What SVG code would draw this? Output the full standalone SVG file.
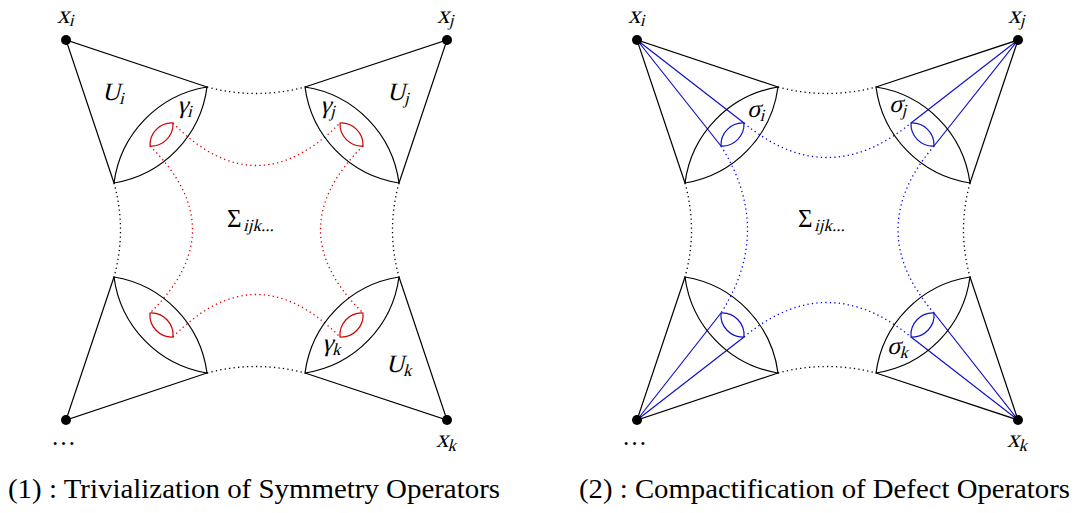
<svg xmlns="http://www.w3.org/2000/svg" width="1076" height="513" viewBox="0 0 1076 513">
<style>
.ln{stroke:#000;stroke-width:1.2;fill:none}
.dotk{stroke:#000;stroke-width:1.3;fill:none;stroke-dasharray:1.3 3.2}
.dotr{stroke:#e00000;stroke-width:1.3;fill:none;stroke-dasharray:1.3 3.2}
.dotb{stroke:#0000f0;stroke-width:1.3;fill:none;stroke-dasharray:1.3 3.2}
.rl{stroke:#cc0000;stroke-width:1.2;fill:none}
.bl{stroke:#1010c8;stroke-width:1.2;fill:none}
.pt{fill:#000}
.m{font-family:"Liberation Serif","Times New Roman",serif;font-size:25px;fill:#000}
.s{font-size:17px}
.cap{font-family:"Liberation Serif","Times New Roman",serif;font-size:27px;fill:#000}
</style>
<rect width="1076" height="513" fill="#fff"/>

<g id="connectors">
  <path class="dotk" d="M207,87 Q256,100 305,87"/>
  <path class="dotk" d="M114,183 Q127,230 114,277"/>
  <path class="dotk" d="M399,183 Q386,230 399,277"/>
  <path class="dotk" d="M207,373 Q256,360 305,373"/>
  <path class="dotr" d="M173,123 Q256,208 340,123"/>
  <path class="dotr" d="M150,146 Q235,230 150,313"/>
  <path class="dotr" d="M363,146 Q278,230 363,313"/>
  <path class="dotr" d="M173,337 Q256,252 340,337"/>
  <path class="dotk" d="M778,87 Q827,100 876,87"/>
  <path class="dotk" d="M685,183 Q698,230 685,277"/>
  <path class="dotk" d="M970,183 Q957,230 970,277"/>
  <path class="dotk" d="M778,373 Q827,360 876,373"/>
  <path class="dotb" d="M744,123 Q827,192 911,123"/>
  <path class="dotb" d="M744,337 Q827,268 911,337"/>
  <path class="dotb" d="M721,146 Q774,230 721,313"/>
  <path class="dotb" d="M934,146 Q862,230 934,313"/>
  <path class="bl" d="M637,40 L744,123 M637,40 L721,146"/>
  <path class="bl" d="M1018,40 L911,123 M1018,40 L934,146"/>
  <path class="bl" d="M637,420 L721,313 M637,420 L744,337"/>
  <path class="bl" d="M1018,420 L934,313 M1018,420 L911,337"/>
</g>

<g id="Ui">
  <path class="ln" d="M207,87 L66,40 L114,183"/>
  <path class="ln" d="M207,87 A112,112 0 0 1 114,183 A112,112 0 0 1 207,87 Z"/>
  <path class="rl" d="M173,123 A22,22 0 0 1 150,146 A22,22 0 0 1 173,123 Z"/>
  <circle class="pt" cx="66" cy="40" r="5"/>
  <text class="m" transform="translate(57,23) skewX(-14)">x<tspan class="s" dy="3">i</tspan></text>
  <text class="m" transform="translate(102,100) skewX(-14)">U<tspan class="s" dy="4">i</tspan></text>
  <text class="m" transform="translate(177,113) skewX(-14)">γ<tspan class="s" dy="4">i</tspan></text>
</g>
<g id="Uj">
  <path class="ln" d="M305,87 L447,40 L399,183"/>
  <path class="ln" d="M305,87 A112,112 0 0 1 399,183 A112,112 0 0 1 305,87 Z"/>
  <path class="rl" d="M340,123 A22,22 0 0 1 363,146 A22,22 0 0 1 340,123 Z"/>
  <circle class="pt" cx="447" cy="40" r="5"/>
  <text class="m" transform="translate(437,23) skewX(-14)">x<tspan class="s" dy="3">j</tspan></text>
  <text class="m" transform="translate(387,100) skewX(-14)">U<tspan class="s" dy="4">j</tspan></text>
  <text class="m" transform="translate(320,113) skewX(-14)">γ<tspan class="s" dy="4">j</tspan></text>
</g>
<g id="Ubl">
  <path class="ln" d="M114,277 L66,420 L207,373"/>
  <path class="ln" d="M114,277 A112,112 0 0 1 207,373 A112,112 0 0 1 114,277 Z"/>
  <path class="rl" d="M150,313 A22,22 0 0 1 173,337 A22,22 0 0 1 150,313 Z"/>
  <circle class="pt" cx="66" cy="420" r="5"/>
  <text class="m" x="51" y="445" font-size="29">…</text>
</g>
<g id="Uk">
  <path class="ln" d="M399,277 L447,420 L305,373"/>
  <path class="ln" d="M399,277 A112,112 0 0 1 305,373 A112,112 0 0 1 399,277 Z"/>
  <path class="rl" d="M363,313 A22,22 0 0 1 340,337 A22,22 0 0 1 363,313 Z"/>
  <circle class="pt" cx="447" cy="420" r="5"/>
  <text class="m" transform="translate(436,447) skewX(-14)">x<tspan class="s" dy="4">k</tspan></text>
  <text class="m" transform="translate(386,372) skewX(-14)">U<tspan class="s" dy="4">k</tspan></text>
  <text class="m" transform="translate(322,351) skewX(-14)">γ<tspan class="s" dy="4">k</tspan></text>
</g>
<g id="Sigma1">
  <text class="m" x="227" y="227">Σ</text>
  <text class="m s" transform="translate(243,231) skewX(-14)">ijk...</text>
</g>

<g id="Vi">
  <path class="ln" d="M778,87 L637,40 L685,183"/>
  <path class="ln" d="M778,87 A112,112 0 0 1 685,183 A112,112 0 0 1 778,87 Z"/>
  <path class="bl" d="M744,123 A22,22 0 0 1 721,146 A22,22 0 0 1 744,123 Z"/>
  <circle class="pt" cx="637" cy="40" r="5"/>
  <text class="m" transform="translate(628,23) skewX(-14)">x<tspan class="s" dy="3">i</tspan></text>
  <text class="m" transform="translate(747,117) skewX(-14)">σ<tspan class="s" dy="4">i</tspan></text>
</g>
<g id="Vj">
  <path class="ln" d="M876,87 L1018,40 L970,183"/>
  <path class="ln" d="M876,87 A112,112 0 0 1 970,183 A112,112 0 0 1 876,87 Z"/>
  <path class="bl" d="M911,123 A22,22 0 0 1 934,146 A22,22 0 0 1 911,123 Z"/>
  <circle class="pt" cx="1018" cy="40" r="5"/>
  <text class="m" transform="translate(1008,23) skewX(-14)">x<tspan class="s" dy="3">j</tspan></text>
  <text class="m" transform="translate(889,112) skewX(-14)">σ<tspan class="s" dy="4">j</tspan></text>
</g>
<g id="Vbl">
  <path class="ln" d="M685,277 L637,420 L778,373"/>
  <path class="ln" d="M685,277 A112,112 0 0 1 778,373 A112,112 0 0 1 685,277 Z"/>
  <path class="bl" d="M721,313 A22,22 0 0 1 744,337 A22,22 0 0 1 721,313 Z"/>
  <circle class="pt" cx="637" cy="420" r="5"/>
  <text class="m" x="622" y="445" font-size="29">…</text>
</g>
<g id="Vk">
  <path class="ln" d="M970,277 L1018,420 L876,373"/>
  <path class="ln" d="M970,277 A112,112 0 0 1 876,373 A112,112 0 0 1 970,277 Z"/>
  <path class="bl" d="M934,313 A22,22 0 0 1 911,337 A22,22 0 0 1 934,313 Z"/>
  <circle class="pt" cx="1018" cy="420" r="5"/>
  <text class="m" transform="translate(1007,447) skewX(-14)">x<tspan class="s" dy="4">k</tspan></text>
  <text class="m" transform="translate(887,354) skewX(-14)">σ<tspan class="s" dy="4">k</tspan></text>
</g>
<g id="Sigma2">
  <text class="m" x="798" y="227">Σ</text>
  <text class="m s" transform="translate(814,231) skewX(-14)">ijk...</text>
</g>

<g id="captions">
  <text class="cap" x="8" y="498" textLength="492" lengthAdjust="spacingAndGlyphs">(1) : Trivialization of Symmetry Operators</text>
  <text class="cap" x="579" y="498" textLength="491" lengthAdjust="spacingAndGlyphs">(2) : Compactification of Defect Operators</text>
</g>
</svg>
